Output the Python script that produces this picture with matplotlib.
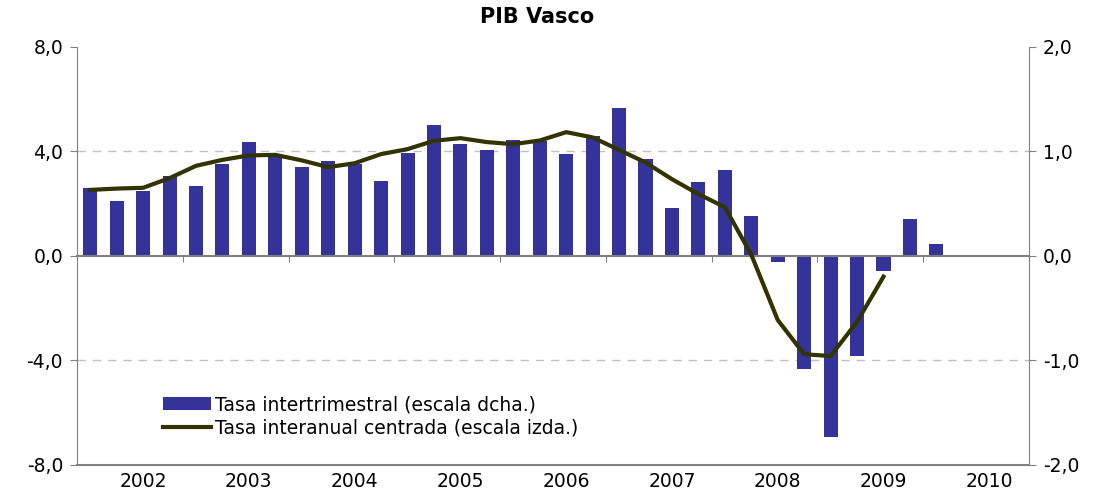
import matplotlib
matplotlib.use('Agg')
import matplotlib.pyplot as plt
import numpy as np
from matplotlib.ticker import FuncFormatter

plt.rcParams['font.family'] = ['DejaVu Sans']

# quarterly rate (right scale), 2001Q4 .. 2009Q4
tasa_intertrim = [0.65, 0.53, 0.62, 0.77, 0.67, 0.88, 1.09, 0.98, 0.85, 0.91,
                  0.88, 0.72, 0.99, 1.25, 1.07, 1.01, 1.11, 1.10, 0.98, 1.15,
                  1.42, 0.93, 0.46, 0.71, 0.82, 0.38, -0.06, -1.08, -1.73, -0.96,
                  -0.14, 0.35, 0.11]
# centred year-on-year rate (left scale)
tasa_interanual = [2.53, 2.58, 2.61, 2.98, 3.45, 3.68, 3.85, 3.87, 3.66, 3.40,
                   3.55, 3.90, 4.09, 4.41, 4.51, 4.36, 4.28, 4.42, 4.74, 4.54,
                   4.06, 3.58, 2.94, 2.37, 1.87, 0.05, -2.45, -3.76, -3.83, -2.52,
                   -0.79]
years = ['2002', '2003', '2004', '2005', '2006', '2007', '2008', '2009', '2010']
n_cat = 36

BAR_COLOR = '#333399'
LINE_COLOR = '#333300'
AXIS_GRAY = '#808080'
FS = 13.5


def coma(v, pos=None):
    return f'{v:.1f}'.replace('.', ',')


fig = plt.figure(figsize=(10.98, 4.92), dpi=100)
ax = fig.add_axes([0.0701, 0.0549, 0.8670, 0.8496])
ax2 = ax.twinx()

# bars on the right scale, drawn underneath
x_bar = np.arange(len(tasa_intertrim))
bars = ax2.bar(x_bar, tasa_intertrim, width=0.53, color=BAR_COLOR, zorder=2,
               label='Tasa intertrimestral (escala dcha.)')
ax2.set_ylim(-2, 2)
ax2.set_yticks([-2, -1, 0, 1, 2])
ax2.yaxis.set_major_formatter(FuncFormatter(coma))
ax2.yaxis.grid(True, linestyle=(0, (6, 5)), color='#c0c0c0', linewidth=1)
ax2.set_axisbelow(True)
for s in ['top', 'left']:
    ax2.spines[s].set_visible(False)
ax2.spines['right'].set_color(AXIS_GRAY)
ax2.spines['bottom'].set_color(AXIS_GRAY)
ax2.spines['bottom'].set_linewidth(1.5)
ax2.tick_params(axis='y', direction='out', length=5, color=AXIS_GRAY,
                labelsize=FS, pad=5)
# only the +-1 gridlines are shown
gl = ax2.yaxis.get_gridlines()
for i in (0, 2, 4):
    gl[i].set_visible(False)

# line on the left scale, drawn on top
ax.set_zorder(ax2.get_zorder() + 1)
ax.patch.set_visible(False)
x_line = np.arange(len(tasa_interanual))
line, = ax.plot(x_line, tasa_interanual, color=LINE_COLOR, linewidth=3.0,
                solid_joinstyle='round', zorder=3,
                label='Tasa interanual centrada (escala izda.)')
ax.set_ylim(-8, 8)
ax.set_yticks([-8, -4, 0, 4, 8])
ax.yaxis.set_major_formatter(FuncFormatter(coma))
ax.set_xlim(-0.5, n_cat - 0.5)

ax.spines['top'].set_visible(False)
ax.spines['right'].set_visible(False)
ax.spines['left'].set_color(AXIS_GRAY)
ax.spines['bottom'].set_position(('data', 0))
ax.spines['bottom'].set_color(AXIS_GRAY)
ax.spines['bottom'].set_linewidth(1.5)
ax.tick_params(axis='y', direction='out', length=5, color=AXIS_GRAY,
               labelsize=FS, pad=5)
ax.set_xticks(np.arange(3.5, n_cat, 4))
ax.tick_params(axis='x', direction='out', length=4, color=AXIS_GRAY,
               labelbottom=False)

# year labels below the plot
sec = ax.secondary_xaxis(0)
sec.set_xticks(np.arange(2, n_cat, 4), labels=years)
sec.tick_params(axis='x', length=0, labelsize=FS, pad=5)
sec.spines['bottom'].set_visible(False)

ax.legend([bars, line], [bars.get_label(), line.get_label()],
          loc='upper left', bbox_to_anchor=(0.082, 0.185), frameon=False,
          fontsize=FS, handlelength=2.6, handletextpad=0.2, labelspacing=0.25,
          borderaxespad=0)

fig.suptitle('PIB Vasco', fontsize=15, fontweight='bold', x=0.489, y=0.985)

fig.savefig('out.png', dpi=100)
